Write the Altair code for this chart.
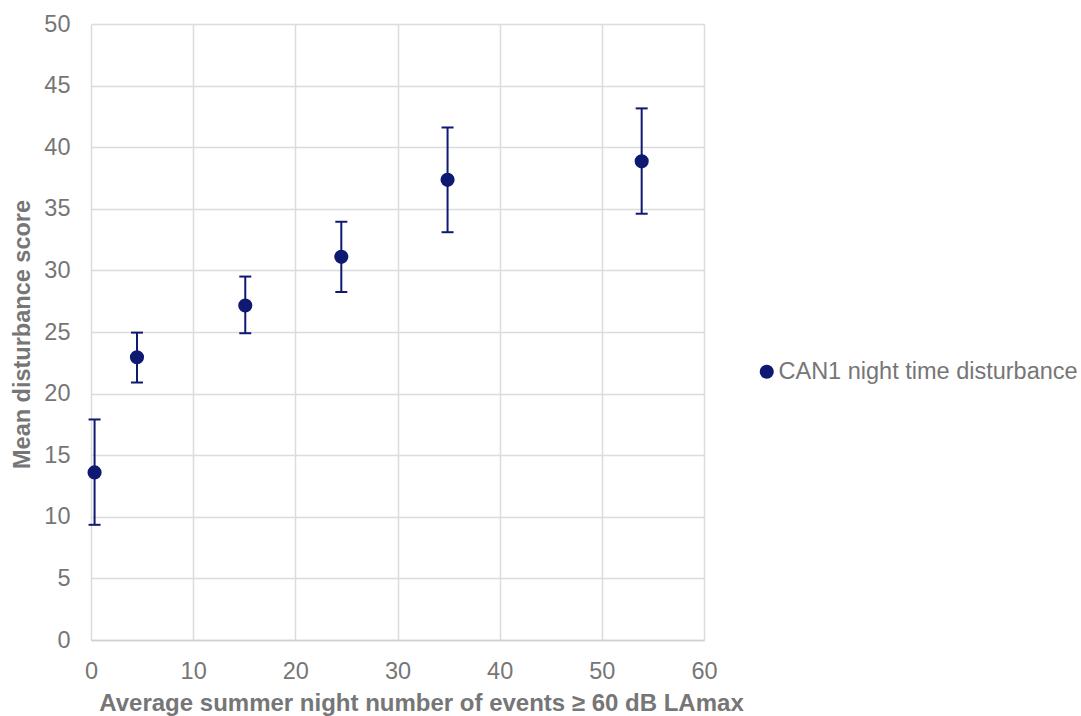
import altair as alt
import pandas as pd

# Mean disturbance score by average number of night-time noise events
events = [0.35, 4.5, 15.1, 24.5, 34.9, 53.9]
mean_score = [13.6, 22.95, 27.15, 31.1, 37.35, 38.85]
upper = [17.9, 24.95, 29.5, 33.95, 41.6, 43.15]
lower = [9.35, 20.9, 24.9, 28.25, 33.1, 34.6]
series_name = "CAN1 night time disturbance"

df = pd.DataFrame({
    "events": events,
    "score": mean_score,
    "upper": upper,
    "lower": lower,
    "series": [series_name] * len(events),
})

NAVY = "#0e1a72"
GRAY = "#767676"
FONT = "Liberation Sans"

x_enc = alt.X(
    "events:Q",
    scale=alt.Scale(domain=[0, 60], nice=False),
    axis=alt.Axis(
        values=[0, 10, 20, 30, 40, 50, 60],
        title="Average summer night number of events ≥ 60 dB LAmax",
        titleX=330, titleY=63, titleBaseline="middle", titleAlign="center",
        titleFontSize=24, labelPadding=19, labelFlush=False,
    ),
)
y_scale = alt.Scale(domain=[0, 50], nice=False)
y_axis = alt.Axis(
    values=list(range(0, 51, 5)),
    title="Mean disturbance score",
    titleX=-69, titleY=310, titleAngle=-90, titleAlign="center", titleBaseline="middle",
    labelPadding=21, labelFlush=False,
)

base = alt.Chart(df)

whiskers = base.mark_rule(color=NAVY, strokeWidth=2).encode(
    x=x_enc,
    y=alt.Y("lower:Q", scale=y_scale, axis=y_axis),
    y2="upper:Q",
)
cap_top = base.mark_tick(color=NAVY, orient="horizontal", size=12, thickness=2, opacity=1).encode(
    x="events:Q", y="upper:Q"
)
cap_bottom = base.mark_tick(color=NAVY, orient="horizontal", size=12, thickness=2, opacity=1).encode(
    x="events:Q", y="lower:Q"
)
points = base.mark_circle(size=200, opacity=1).encode(
    x="events:Q",
    y="score:Q",
    color=alt.Color(
        "series:N",
        scale=alt.Scale(domain=[series_name], range=[NAVY]),
        legend=alt.Legend(
            title=None, orient="none", legendX=664, legendY=336, padding=0,
            symbolSize=200, symbolType="circle", symbolOpacity=1,
            labelFontSize=23.5, labelColor=GRAY, labelFont=FONT, labelOffset=0,
            labelLimit=400,
        ),
    ),
)

chart = (
    alt.layer(whiskers, cap_top, cap_bottom, points)
    .properties(
        width=613, height=616,
        autosize=alt.AutoSizeParams(type="none"),
        padding={"left": 91, "top": 24, "right": 377, "bottom": 76},
        background="white",
    )
    .configure_view(stroke=None)
    .configure_axis(
        grid=True, gridColor="#dcdcdc", gridWidth=1.5,
        domain=False, ticks=False,
        labelFont=FONT, labelFontSize=23.5, labelColor=GRAY,
        titleFont=FONT, titleFontSize=23.5, titleColor=GRAY, titleFontWeight="bold",
    )
    .configure_axisX(domain=True, domainColor="#cfcfcf", domainWidth=1.5)
)

chart.save("out.html", embed_options={"renderer": "svg", "actions": False})
